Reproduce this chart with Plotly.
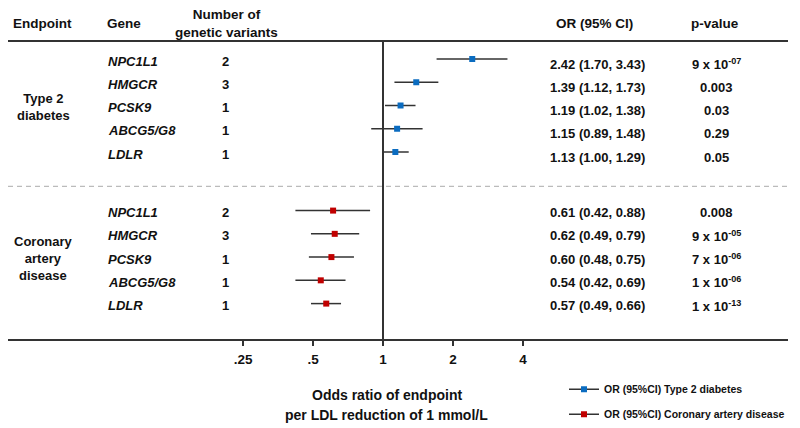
import plotly.graph_objects as go

# ---------------- data ----------------
genes = ["NPC1L1", "HMGCR", "PCSK9", "ABCG5/G8", "LDLR"]
n_variants = [2, 3, 1, 1, 1]

t2d_or = [2.42, 1.39, 1.19, 1.15, 1.13]
t2d_lo = [1.70, 1.12, 1.02, 0.89, 1.00]
t2d_hi = [3.43, 1.73, 1.38, 1.48, 1.29]
t2d_p = ["9 x 10<sup>-07</sup>", "0.003", "0.03", "0.29", "0.05"]

cad_or = [0.61, 0.62, 0.60, 0.54, 0.57]
cad_lo = [0.42, 0.49, 0.48, 0.42, 0.49]
cad_hi = [0.88, 0.79, 0.75, 0.69, 0.66]
cad_p = ["0.008", "9 x 10<sup>-05</sup>", "7 x 10<sup>-06</sup>",
         "1 x 10<sup>-06</sup>", "1 x 10<sup>-13</sup>"]

tick_vals = [0.25, 0.5, 1, 2, 4]
tick_text = [".25", ".5", "1", "2", "4"]

endpoints = ["Type 2<br>diabetes", "Coronary<br>artery<br>disease"]
legend_names = ["OR (95%CI) Type 2 diabetes", "OR (95%CI) Coronary artery disease"]

# ---------------- layout constants (page pixels) ----------------
PAGE_W, PAGE_H = 800, 428
BODY = 8                      # default page body margin
W, H = PAGE_W - BODY, PAGE_H - BODY
PL, PR, PT, PB = 8, 788, 41, 339   # plot area edges in page pixels
L = PL - BODY
T = PT - BODY
R = W - (PR - BODY)
B = H - (PB - BODY)
PW = PR - PL
PH = PB - PT
X1_PX = 383                   # page x of OR = 1
PX_PER_DEC = 232.5
CAD_OFFSET = 6.52             # row gap between the two groups
ROW_PX = 23.25
ROW0_PX = 59
BLUE = "#0b6cc0"
RED = "#c00000"
DARK = "#333333"
FONT = "Liberation Sans, Arial, sans-serif"
TXT = "#111111"

def px(xp):
    return (xp - PL) / PW

rows_t2d = list(range(len(genes)))
rows_cad = [i + CAD_OFFSET for i in rows_t2d]

fig = go.Figure()

def add_series(or_, lo, hi, rows, color):
    fig.add_trace(go.Scatter(
        x=or_, y=rows, mode="markers", showlegend=False, hoverinfo="skip",
        marker=dict(symbol="square", size=6, color=color),
        error_x=dict(type="data", symmetric=False,
                     array=[h - o for h, o in zip(hi, or_)],
                     arrayminus=[o - l for o, l in zip(or_, lo)],
                     color=DARK, thickness=1.5, width=0),
    ))

add_series(t2d_or, t2d_lo, t2d_hi, rows_t2d, BLUE)
add_series(cad_or, cad_lo, cad_hi, rows_cad, RED)

for name, color, grp in zip(legend_names, [BLUE, RED], ["a", "b"]):
    fig.add_trace(go.Scatter(
        x=[None], y=[None], mode="lines+markers", name=name, legendgroup=grp,
        line=dict(color=DARK, width=1.5),
        marker=dict(symbol="square", size=6, color=color),
    ))

ann = []
def text(x, y, s, size=13, xanchor="center", yref="y", yshift=0, **kw):
    ann.append(dict(x=x, y=y, xref="paper", yref=yref, text=s, showarrow=False,
                    xanchor=xanchor, yanchor="middle", yshift=yshift,
                    font=dict(family=FONT, size=size, color=TXT), **kw))

# headers
hdr_shift = PT - 23
text(px(42.5), 1, "<b>Endpoint</b>", 13.5, yref="paper", yshift=hdr_shift)
text(px(124), 1, "<b>Gene</b>", 13.5, yref="paper", yshift=hdr_shift)
text(px(226.5), 1, "<b>Number of<br>genetic variants</b>", 13.5, yref="paper",
     yshift=hdr_shift)
text(px(594), 1, "<b>OR (95% CI)</b>", 13.5, yref="paper", yshift=hdr_shift)
text(px(715), 1, "<b>p-value</b>", 13.5, yref="paper", yshift=hdr_shift)

# group rows
groups = [(rows_t2d, t2d_or, t2d_lo, t2d_hi, t2d_p, -5),
          (rows_cad, cad_or, cad_lo, cad_hi, cad_p, -2)]
for (rows, o, lo, hi, p, sh), ep in zip(groups, endpoints):
    text(px(43), rows[2], f"<b>{ep}</b>", 13, yshift=-1)
    for i, r in enumerate(rows):
        text(px(106), r, f"<b><i>{genes[i]}</i></b>", 13, xanchor="left", yshift=-2)
        text(px(225), r, f"<b>{n_variants[i]}</b>", 13, yshift=-2)
        text(px(597), r, f"<b>{o[i]:.2f} ({lo[i]:.2f}, {hi[i]:.2f})</b>", 13, yshift=sh)
        text(px(716), r, f"<b>{p[i]}</b>", 13, yshift=sh)

# axis title (two lines)
text(px(386.6), 0, "<b>Odds ratio of endpoint</b>", 14, yref="paper", yshift=-(395 - PB))
text(px(386.6), 0, "<b>per LDL reduction of 1 mmol/L</b>", 14, yref="paper",
     yshift=-(415 - PB))

sep_y = (rows_t2d[-1] + rows_cad[0]) / 2 + 0.22
shapes = [
    dict(type="line", xref="paper", yref="paper", x0=0, x1=1, y0=1, y1=1,
         line=dict(color=DARK, width=2)),
    dict(type="line", xref="x", yref="paper", x0=1, x1=1, y0=0, y1=1,
         line=dict(color=DARK, width=2)),
    dict(type="line", xref="paper", yref="y", x0=0, x1=1, y0=sep_y, y1=sep_y,
         line=dict(color="#bbbbbb", width=1.3, dash="5px,4px")),
]

y_top = -(ROW0_PX - PT) / ROW_PX
y_bot = (PB - ROW0_PX) / ROW_PX

fig.update_layout(
    width=W, height=H,
    margin=dict(l=L, r=R, t=T, b=B, autoexpand=False),
    paper_bgcolor="white", plot_bgcolor="white",
    annotations=ann, shapes=shapes,
    xaxis=dict(type="log",
               range=[(PL - X1_PX) / PX_PER_DEC, (PR - X1_PX) / PX_PER_DEC],
               tickvals=tick_vals, ticktext=tick_text, showgrid=False,
               zeroline=False, showline=True, linecolor=DARK, linewidth=2,
               ticks="outside", ticklen=5, tickwidth=1.5, tickcolor=DARK,
               tickfont=dict(family=FONT, size=13.5, color=TXT, weight="bold"),
               ticklabelstandoff=2, fixedrange=True),
    yaxis=dict(range=[y_bot, y_top], visible=False, showgrid=False,
               zeroline=False, fixedrange=True),
    legend=dict(x=px(564), y=-0.12, xanchor="left", yanchor="top",
                traceorder="grouped", tracegroupgap=6,
                font=dict(family=FONT, size=10.5, color=TXT, weight="bold"),
                bgcolor="rgba(0,0,0,0)"),
    showlegend=True,
)

fig.write_html("out.html")
